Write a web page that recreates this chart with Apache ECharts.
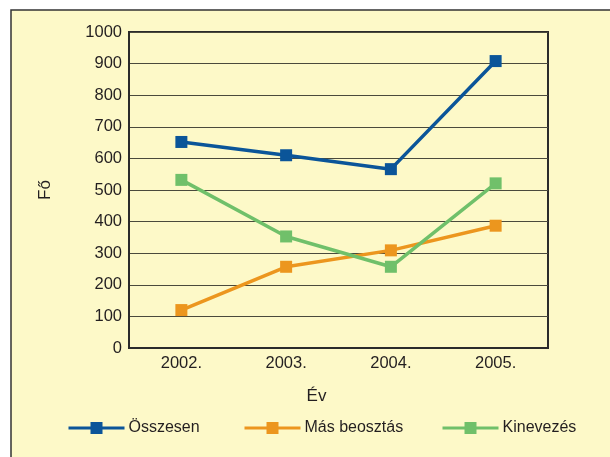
<!DOCTYPE html>
<html>
<head>
<meta charset="utf-8">
<script src="https://cdn.jsdelivr.net/npm/echarts@6/dist/echarts.min.js"></script>
<style>
  html, body { margin: 0; padding: 0; background: #ffffff; }
  #chart { width: 610px; height: 457px; }
</style>
</head>
<body>
<div id="chart"></div>
<script>
const years = ['2002.', '2003.', '2004.', '2005.']
const osszesen = [652, 610, 566, 908]
const masBeosztas = [120, 257, 309, 387]
const kinevezes = [532, 353, 257, 521]

const colors = {
  osszesen : '#0b5599',
  mas : '#ec961e',
  kinevezes : '#70c06a'
}

const chart = echarts.init( document.getElementById( 'chart' ) )

const font = 'Liberation Sans, Arial, sans-serif'
const textColor = '#231f20'

const legendBase = {
  top : 420,
  padding : 0,
  itemWidth : 56,
  itemHeight : 15,
  itemGap : 0,
  lineStyle : { width : 3 },
  textStyle : { fontFamily : font, fontSize : 16, color : textColor, padding : [0, 0, 0, -1] }
}

chart.setOption( {
  backgroundColor : 'transparent',
  animation : false,
  graphic : [
    {
      type : 'rect',
      z : -10,
      shape : { x : 11, y : 10, width : 700, height : 500 },
      style : { fill : '#fdf9c8', stroke : '#333', lineWidth : 1.5 }
    }
  ],
  legend : [
    Object.assign( {}, legendBase, { left : 67, data : ['Összesen'] } ),
    Object.assign( {}, legendBase, { left : 243, data : ['Más beosztás'] } ),
    Object.assign( {}, legendBase, { left : 441, data : ['Kinevezés'] } )
  ],
  grid : {
    left : 129,
    right : 62,
    top : 32,
    bottom : 109,
    show : true,
    borderColor : '#2b2b2b',
    borderWidth : 2,
    backgroundColor : 'transparent'
  },
  xAxis : {
    type : 'category',
    data : years,
    boundaryGap : true,
    name : 'Év',
    nameLocation : 'middle',
    nameGap : 40,
    nameTextStyle : { fontFamily : font, fontSize : 17, color : textColor, padding : [0, 44, 0, 0] },
    axisLine : { lineStyle : { color : '#2b2b2b', width : 2 }},
    axisTick : { inside : true, length : 7, lineStyle : { color : '#2b2b2b', width : 2 }},
    axisLabel : { margin : 7, fontFamily : font, fontSize : 16.5, color : textColor },
    splitLine : { show : false }
  },
  yAxis : {
    type : 'value',
    min : 0,
    max : 1000,
    interval : 100,
    name : 'Fő',
    nameLocation : 'middle',
    nameGap : 75,
    nameTextStyle : { fontFamily : font, fontSize : 17, color : textColor },
    axisLine : { show : true, lineStyle : { color : '#2b2b2b', width : 2 }},
    axisTick : { show : false },
    axisLabel : { margin : 7, fontFamily : font, fontSize : 16.5, color : textColor, formatter : v => String( v ) },
    splitLine : { lineStyle : { color : '#4a4a3c', width : 1.2 }}
  },
  series : [
    {
      name : 'Összesen',
      type : 'line',
      data : osszesen,
      color : colors.osszesen,
      symbol : 'rect',
      symbolSize : 12,
      lineStyle : { width : 3.5 }
    },
    {
      name : 'Más beosztás',
      type : 'line',
      data : masBeosztas,
      color : colors.mas,
      symbol : 'rect',
      symbolSize : 12,
      lineStyle : { width : 3.5 }
    },
    {
      name : 'Kinevezés',
      type : 'line',
      data : kinevezes,
      color : colors.kinevezes,
      symbol : 'rect',
      symbolSize : 12,
      lineStyle : { width : 3.5 }
    }
  ]
} )
</script>
</body>
</html>
